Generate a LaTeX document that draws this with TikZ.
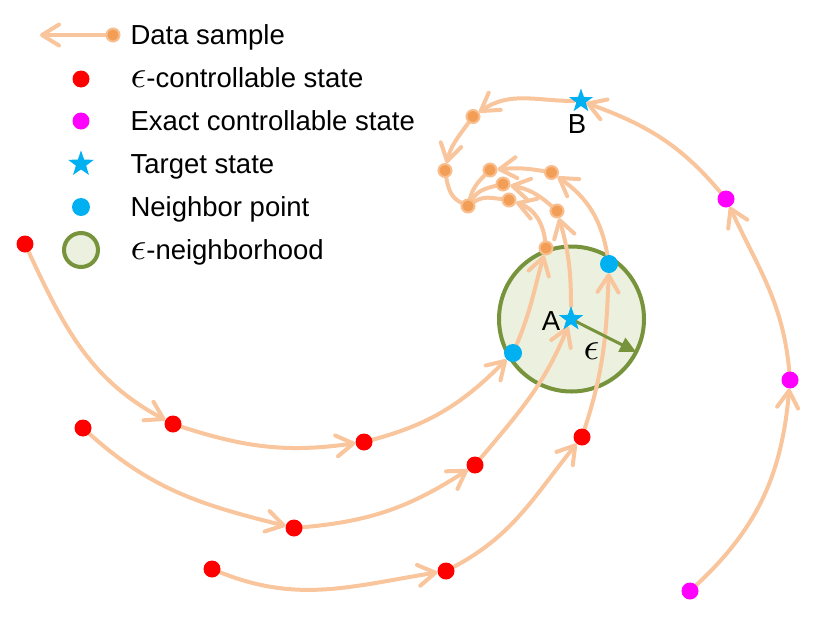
\documentclass[tikz,border=0pt]{standalone}
\usepackage{graphicx}
\usepackage{fontspec}
\setmainfont{Liberation Sans}
\usetikzlibrary{arrows.meta,shapes.geometric}
\newcommand{\myeps}{\mbox{\fontsize{10}{12}\selectfont\scalebox{3.9}{$\epsilon$}}}
\definecolor{lineC}{RGB}{249,197,156}
\definecolor{dotO}{RGB}{243,158,86}
\definecolor{dotRing}{RGB}{248,190,142}
\definecolor{nbBlue}{RGB}{0,176,240}
\definecolor{nbEdge}{RGB}{119,147,60}
\definecolor{nbFill}{RGB}{235,241,222}
\definecolor{pureRed}{RGB}{255,0,0}
\definecolor{pureMag}{RGB}{255,0,255}
\pgfdeclarelayer{bg}
\pgfsetlayers{bg,main}
\tikzset{
  flow/.style={draw=lineC, line width=4pt, line cap=round,
    -{Straight Barb[length=17pt,width=21pt,round]}},
  plainflow/.style={draw=lineC, line width=4pt, line cap=round},
  rdot/.style={circle, fill=pureRed, inner sep=0pt, minimum size=17pt},
  mdot/.style={circle, fill=pureMag, inner sep=0pt, minimum size=17pt},
  bdot/.style={circle, fill=nbBlue, inner sep=0pt, minimum size=18pt},
  odot/.style={circle, fill=dotO, draw=dotRing, line width=2pt, inner sep=0pt, minimum size=13pt},
  tstar/.style={star, star points=5, star point ratio=2.5, fill=nbBlue, inner sep=0pt, minimum size=25pt},
  nbhd/.style={circle, fill=nbFill, draw=nbEdge, line width=4pt, inner sep=0pt},
  lgtext/.style={anchor=base west},
}
\begin{document}
\begin{tikzpicture}[x=1pt,y=1pt,font=\fontsize{27.5}{33}\selectfont]
\useasboundingbox (0,0) rectangle (829,-621);

% neighbourhood (background)
\begin{pgfonlayer}{bg}
  \node[nbhd, minimum size=145pt] (nbh) at (571.5,-319) {};
\end{pgfonlayer}

% legend
\node[odot] (lgd) at (113,-35) {};
\coordinate (lgt) at (40,-35);
\node[lgtext] (t1) at (127,-44.5) {Data sample};
\node[rdot] (l2) at (81,-79) {};
\node[lgtext] (t2) at (127,-87.5) {\myeps-controllable state};
\node[mdot] (l3) at (81,-121) {};
\node[lgtext] (t3) at (127,-130.5) {Exact controllable state};
\node[tstar, minimum size=27pt] (l4) at (81,-164) {};
\node[lgtext] (t4) at (127,-173.5) {Target state};
\node[bdot] (l5) at (81,-207) {};
\node[lgtext] (t5) at (127,-216.5) {Neighbor point};
\node[nbhd, minimum size=34pt] (l6) at (81,-250) {};
\node[lgtext] (t6) at (127,-259.5) {\myeps-neighborhood};

% states
\node[rdot] (r11) at (25,-244) {};
\node[rdot] (r12) at (173,-424) {};
\node[rdot] (r13) at (364,-442) {};
\node[rdot] (r21) at (83,-428) {};
\node[rdot] (r22) at (294,-528) {};
\node[rdot] (r23) at (475,-465) {};
\node[rdot] (r31) at (212,-569) {};
\node[rdot] (r32) at (446,-571) {};
\node[rdot] (r33) at (582,-437) {};
\node[bdot] (n1) at (513,-353) {};
\node[bdot] (n2) at (609,-264) {};
\node[mdot] (m1) at (690,-591) {};
\node[mdot] (m2) at (790,-380) {};
\node[mdot] (m3) at (726,-199) {};
\node[tstar] (A) at (571,-319) {};
\node[tstar] (B) at (581,-101) {};
\node[odot] (o1) at (546,-248) {};
\node[odot] (o2) at (509,-200) {};
\node[odot] (o3) at (557,-211) {};
\node[odot] (o4) at (503,-184) {};
\node[odot] (o5) at (551.5,-172.5) {};
\node[odot] (o6) at (490,-170) {};
\node[odot] (o7) at (473,-116.5) {};
\node[odot] (o8) at (445,-170.5) {};
\node[odot] (hub) at (468,-206) {};

% labels
\node[anchor=base] (la) at (551,-330) {A};
\node[anchor=base] (lb) at (577,-133) {B};
\node[anchor=base] (le) at (591.5,-359) {\myeps};

% connectors
\begin{pgfonlayer}{bg}
  \draw[flow] (lgd) -- (lgt);
  % trajectory 1
  \draw[flow] (r11) to[out=-65,in=152] (r12);
  \draw[flow] (r12) to[out=-18,in=188] (r13);
  \draw[flow] (r13) to[out=15,in=225] (n1);
  \draw[flow] (n1) to[out=67,in=-106] (o1);
  \draw[flow] (o1) to[out=97,in=-19] (o2);
  \draw[plainflow] (o2) to[out=173,in=34] (hub);
  % trajectory 2
  \draw[flow] (r21) to[out=-42,in=166] (r22);
  \draw[flow] (r22) to[out=5,in=213] (r23);
  \draw[flow] (r23) to[out=50,in=248] (A);
  \draw[flow] (A) to[out=90,in=-74] (o3);
  \draw[flow] (o3) to[out=138,in=-11] (o4);
  \draw[plainflow] (o4) to[out=194,in=58] (hub);
  % trajectory 3
  \draw[flow] (r31) to[out=-22,in=189] (r32);
  \draw[flow] (r32) to[out=28,in=231] (r33);
  \draw[flow] (r33) to[out=72,in=268] (n2);
  \draw[flow] (n2) to[out=100,in=-35] (o5);
  \draw[flow] (o5) to[out=170,in=5] (o6);
  \draw[plainflow] (o6) to[out=225,in=75] (hub);
  % trajectory 4
  \draw[flow] (m1) to[out=43,in=265] (m2);
  \draw[flow] (m2) to[out=95,in=295] (m3);
  \draw[flow] (m3) to[out=130,in=-20] (B);
  \draw[flow] (B) to[out=180,in=35] (o7);
  \draw[flow] (o7) to[out=234,in=77] (o8);
  \draw[plainflow] (o8) to[out=-80,in=154] (hub);
\end{pgfonlayer}

% epsilon radius
\draw[draw=nbEdge, line width=3pt, -{Triangle[length=16pt,width=15pt]}, shorten >=2pt] (A.center) -- (nbh.-27);
\node[tstar] (A2) at (A) {};
\end{tikzpicture}
\end{document}
